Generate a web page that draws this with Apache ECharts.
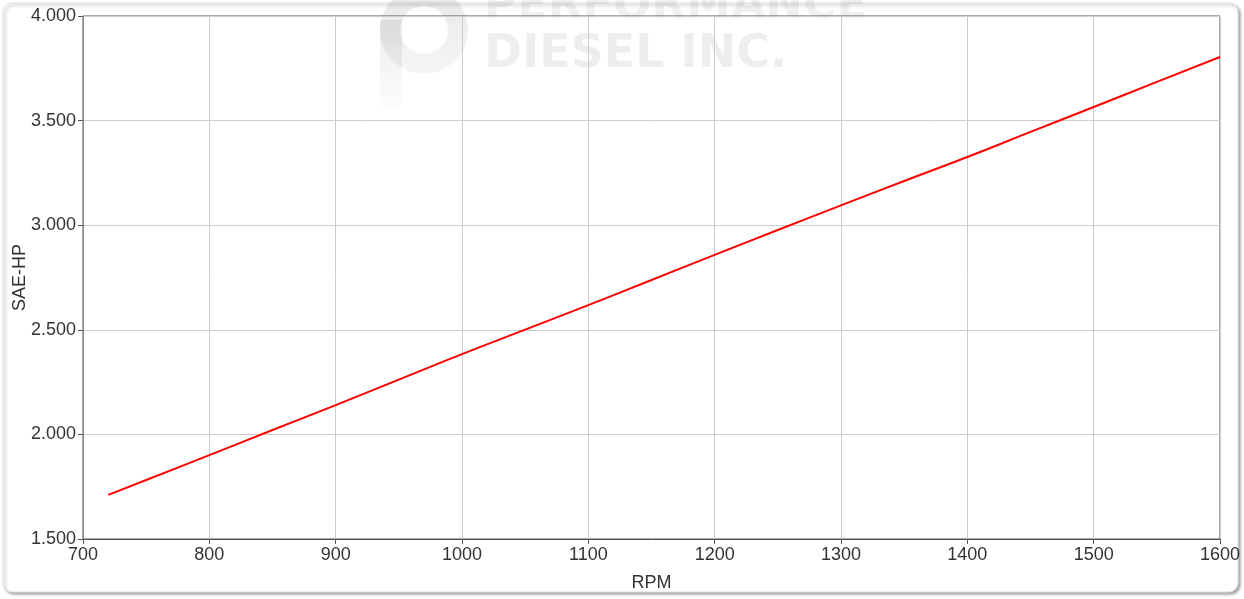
<!DOCTYPE html>
<html>
<head>
<meta charset="utf-8">
<script src="https://cdn.jsdelivr.net/npm/echarts@6/dist/echarts.min.js"></script>
<style>
html,body{margin:0;padding:0;background:#fff;}
#c{width:1244px;height:599px;}
</style>
</head>
<body>
<div id="c"></div>
<script>
var rpm = [720, 750, 800, 850, 900, 950, 1000, 1050, 1100, 1150, 1200, 1250, 1300, 1350, 1400, 1450, 1500, 1550, 1600];
var hp  = [1711, 1782, 1901, 2021, 2140, 2262, 2384, 2501, 2618, 2738, 2858, 2977, 3095, 3211, 3326, 3446, 3565, 3685, 3804];
var xTicks = [700, 800, 900, 1000, 1100, 1200, 1300, 1400, 1500, 1600];
var yTicks = [1500, 2000, 2500, 3000, 3500, 4000];
var xName = 'RPM';
var yName = 'SAE-HP';

var FONT = '"Liberation Sans", Arial, sans-serif';
var chart = echarts.init(document.getElementById('c'));
function fmtThousands(v){
  var s = String(Math.round(v));
  return s.replace(/\B(?=(\d{3})+(?!\d))/g, '.');
}
var data = rpm.map(function(r,i){return [r, hp[i]];});
chart.setOption({
  animation:false,
  backgroundColor:'#fff',
  graphic:[
    {type:'rect', z:-10, shape:{x:3,y:3,width:1235,height:589,r:9},
     style:{fill:'#fff', stroke:'#e2e2e2', lineWidth:1, shadowBlur:3, shadowOffsetX:2, shadowOffsetY:2, shadowColor:'rgba(0,0,0,0.35)'}},
    {type:'rect', z:-5, shape:{x:380,y:20,width:22,height:86},
     style:{fill:new echarts.graphic.LinearGradient(0,0,0,1,[{offset:0,color:'rgba(0,0,0,0.08)'},{offset:1,color:'rgba(0,0,0,0.01)'}])}},
    {type:'ring', z:-5, shape:{cx:424, cy:30, r:44, r0:24},
     style:{fill:new echarts.graphic.LinearGradient(0,0,0,1,[{offset:0,color:'rgba(0,0,0,0.09)'},{offset:1,color:'rgba(0,0,0,0.04)'}])}},
    {type:'text', z:-5, x:484, y:-16,
     style:{text:'PERFORMANCE', font:'bold 45px "DejaVu Sans", sans-serif', fill:'rgba(0,0,0,0.06)'}},
    {type:'text', z:-5, x:484, y:32,
     style:{text:'DIESEL INC.', font:'bold 46px "DejaVu Sans", sans-serif', fill:'rgba(0,0,0,0.065)'}}
  ],
  grid:{left:83, right:24, top:16, bottom:60, show:true, borderColor:'#555', borderWidth:1, backgroundColor:'transparent', containLabel:false, outerBoundsMode:'none'},
  xAxis:{
    type:'value', min:700, max:1600, interval:100,
    name:xName, nameLocation:'middle', nameGap:35, nameMoveOverlap:false,
    nameTextStyle:{color:'#333', fontSize:18, fontFamily:FONT},
    axisLine:{show:true, lineStyle:{color:'#555'}},
    axisTick:{show:true, length:5, lineStyle:{color:'#555'}},
    axisLabel:{color:'#333', fontSize:18, margin:7, fontFamily:FONT,
      formatter:function(v){return xTicks.indexOf(v)>=0 ? String(v) : '';}},
    splitLine:{show:true, lineStyle:{color:'#cccccc', width:1}}
  },
  yAxis:{
    type:'value', min:1500, max:4000, interval:500,
    name:yName, nameLocation:'middle', nameGap:54, nameRotate:90, nameMoveOverlap:false,
    nameTextStyle:{color:'#333', fontSize:18, fontFamily:FONT},
    axisLine:{show:true, lineStyle:{color:'#888'}},
    axisTick:{show:true, length:5, lineStyle:{color:'#555'}},
    axisLabel:{color:'#333', fontSize:18, margin:7, fontFamily:FONT,
      formatter:function(v){return yTicks.indexOf(v)>=0 ? fmtThousands(v) : '';}},
    splitLine:{show:true, lineStyle:{color:'#cccccc', width:1}}
  },
  series:[{
    type:'line', data:data, showSymbol:false, smooth:true,
    lineStyle:{color:'#ff0000', width:2},
    itemStyle:{color:'#ff0000'}
  }]
});
</script>
</body>
</html>
